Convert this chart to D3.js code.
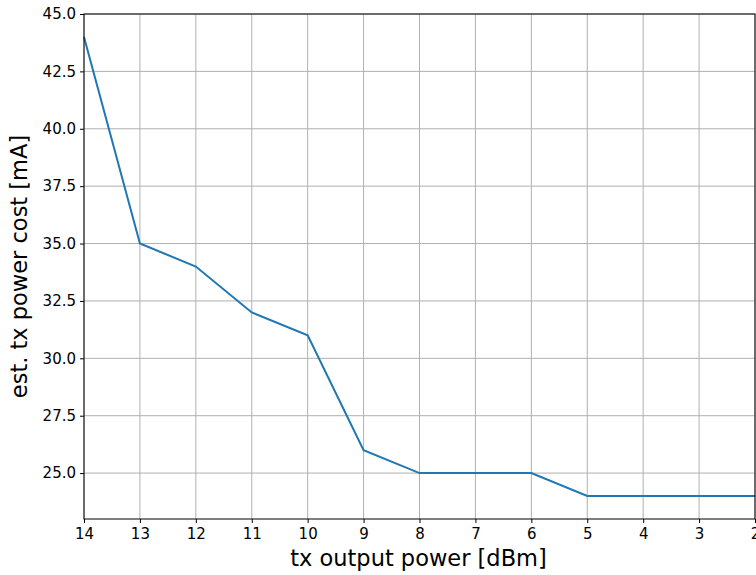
<!DOCTYPE html>
<html>
<head>
<meta charset="utf-8">
<script src="https://cdn.jsdelivr.net/npm/d3@7"></script>
<style>
  body { margin: 0; background: #fff; }
</style>
</head>
<body>
<div id="chart"></div>
<script>
// tx output power levels (dBm) and estimated current cost (mA)
const powerLevels = [14, 13, 12, 11, 10, 9, 8, 7, 6, 5, 4, 3, 2];
const powerCost = [44, 35, 34, 32, 31, 26, 25, 25, 25, 24, 24, 24, 24];
const yTicks = [25.0, 27.5, 30.0, 32.5, 35.0, 37.5, 40.0, 42.5, 45.0];

const font = "DejaVu Sans, sans-serif";
const margin = { top: 14, right: 1, bottom: 56, left: 84 };
const width = 756 - margin.left - margin.right;
const height = 575 - margin.top - margin.bottom;

const svg = d3.select("#chart")
    .append("svg")
    .attr("width", 756)
    .attr("height", 575)
    .append("g")
    .attr("transform", `translate(${margin.left},${margin.top})`);

// x axis is reversed: 14 on the left, 2 on the right
const x = d3.scaleLinear().domain([14, 2]).range([0, width]);
const y = d3.scaleLinear().domain([23, 45]).range([height, 0]);

// Grid lines
svg.append("g")
    .selectAll("line")
    .data(powerLevels)
    .enter().append("line")
    .attr("x1", d => x(d)).attr("x2", d => x(d))
    .attr("y1", 0).attr("y2", height)
    .attr("stroke", "#b0b0b0").attr("stroke-width", 1);

svg.append("g")
    .selectAll("line")
    .data(yTicks)
    .enter().append("line")
    .attr("x1", 0).attr("x2", width)
    .attr("y1", d => y(d)).attr("y2", d => y(d))
    .attr("stroke", "#b0b0b0").attr("stroke-width", 1);

// Axes
const xAxis = svg.append("g")
    .attr("transform", `translate(0,${height})`)
    .call(d3.axisBottom(x).tickValues(powerLevels).tickFormat(d3.format("d")).tickSize(4).tickPadding(5));

const yAxis = svg.append("g")
    .call(d3.axisLeft(y).tickValues(yTicks).tickFormat(d3.format(".1f")).tickSize(4).tickPadding(4));

[xAxis, yAxis].forEach(a => {
    a.select(".domain").remove();
    a.selectAll(".tick line").attr("stroke", "#000").attr("stroke-width", 1);
    a.selectAll(".tick text")
        .attr("fill", "#000")
        .style("font-family", font)
        .style("font-size", "15px");
});

// Line
svg.append("path")
    .datum(powerLevels.map((p, i) => [p, powerCost[i]]))
    .attr("fill", "none")
    .attr("stroke", "#1f77b4")
    .attr("stroke-width", 2)
    .attr("d", d3.line().x(d => x(d[0])).y(d => y(d[1])));

// Frame
svg.append("rect")
    .attr("width", width).attr("height", height)
    .attr("fill", "none").attr("stroke", "#000").attr("stroke-width", 1);

// Axis labels
svg.append("text")
    .attr("text-anchor", "middle")
    .attr("x", width / 2 - 1)
    .attr("y", height + 47)
    .attr("font-family", font)
    .attr("font-size", 22.5)
    .text("tx output power [dBm]");

svg.append("text")
    .attr("text-anchor", "middle")
    .attr("transform", "rotate(-90)")
    .attr("x", -height / 2)
    .attr("y", -57)
    .attr("font-family", font)
    .attr("font-size", 22.5)
    .text("est. tx power cost [mA]");
</script>
</body>
</html>
